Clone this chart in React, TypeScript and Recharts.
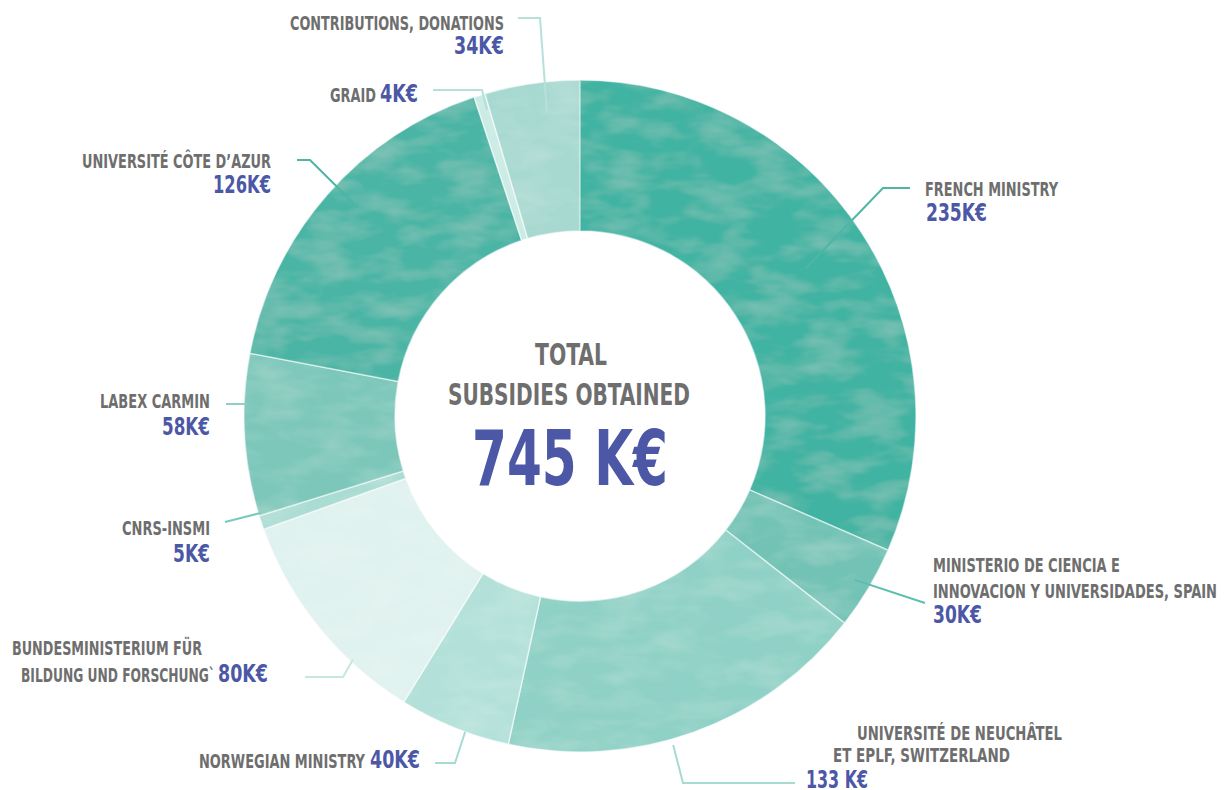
import { PieChart, Pie, Cell } from 'recharts'

// subsidies, clockwise from 12 o'clock
const names = [
  'French Ministry',
  'Ministerio de Ciencia e Innovacion y Universidades, Spain',
  'Université de Neuchâtel et EPLF, Switzerland',
  'Norwegian Ministry',
  'Bundesministerium für Bildung und Forschung',
  'CNRS-INSMI',
  'Labex Carmin',
  'Université Côte d’Azur',
  'GRAID',
  'Contributions, donations',
]
const values = [235, 30, 133, 40, 80, 5, 58, 126, 4, 34]
const colors = [
  '#3fb3a2', '#72c3b5', '#8fd1c6', '#b3e1d9', '#e0f2ef',
  '#a9dcd3', '#7cc7ba', '#4cb5a5', '#cbebe5', '#a7d9d0',
]
const lineColors = [
  '#4db6a7', '#5dbdb0', '#a6dbd2', '#a6dbd2', '#c6e7e1',
  '#7ccabd', '#8fd0c5', '#4db5a5', '#b5e1da', '#b5e1da',
]

const GRAY = '#6e6e6e'
const BLUE = '#4c58a6'
const FONT = "'DejaVu Sans Condensed', 'DejaVu Sans', sans-serif"

const data = names.map((name, i) => ({ name, value: values[i] }))
const total = values.reduce((a, b) => a + b, 0)

// label placement: leader start (angle nudge / radius), bends, then text pieces
// each piece: [left x, baseline y, width, text]  (text null = the value)
type Piece = [number, number, number, string | null]
const labelLayout: { da: number; r: number; path: number[][]; pieces: Piece[]; sp?: boolean }[] = [
  { da: 0, r: 270, path: [[883, 188], [910, 188]], pieces: [
    [925, 196, 133, 'FRENCH MINISTRY'], [926, 221, 61, null]] },
  { da: 0, r: 320, path: [[925, 603]], pieces: [
    [933, 572, 187, 'MINISTERIO DE CIENCIA E'],
    [933, 598, 284, 'INNOVACION Y UNIVERSIDADES, SPAIN'],
    [933, 623, 49, null]] },
  { da: -4, r: 342, path: [[683, 783], [795, 783]], sp: true, pieces: [
    [857, 740, 205, 'UNIVERSITÉ DE NEUCHÂTEL'],
    [833, 762, 177, 'ET EPLF, SWITZERLAND'],
    [806, 788, 62, null]] },
  { da: 2, r: 336, path: [[455, 763], [435, 763]], pieces: [
    [199, 768, 166, 'NORWEGIAN MINISTRY'], [370, 768, 50, null]] },
  { da: 8, r: 333, path: [[343, 677], [305, 677]], pieces: [
    [12, 655, 190, 'BUNDESMINISTERIUM FÜR'],
    [21, 682, 194, 'BILDUNG UND FORSCHUNG`'], [218, 682, 50, null]] },
  { da: -1.6, r: 334, path: [[225, 522]], pieces: [
    [122, 535, 88, 'CNRS-INSMI'], [173, 562, 37, null]] },
  { da: -5.3, r: 334, path: [[226, 404]], pieces: [
    [100, 408, 110, 'LABEX CARMIN'], [162, 435, 48, null]] },
  { da: -2, r: 305, path: [[310, 160], [297, 160]], pieces: [
    [82, 168, 189, 'UNIVERSITÉ CÔTE D’AZUR'], [213, 193, 58, null]] },
  { da: -0.5, r: 320, path: [[482, 90], [433, 90]], pieces: [
    [330, 102, 46, 'GRAID'], [380, 102, 38, null]] },
  { da: -2, r: 305, path: [[540, 18], [518, 18]], pieces: [
    [290, 30, 214, 'CONTRIBUTIONS, DONATIONS'], [454, 54, 50, null]] },
]

const RAD = Math.PI / 180

const renderLabel = (props: any) => {
  const { cx, cy, midAngle, index } = props
  const lay = labelLayout[index]
  const a = (midAngle + lay.da) * RAD
  const sx = cx + lay.r * Math.cos(-a)
  const sy = cy + lay.r * Math.sin(-a)
  const pts = [[sx, sy], ...lay.path].map(p => p.join(',')).join(' ')
  return (
    <g key={`lbl-${index}`}>
      {index === 0 && (
        <defs>
          <filter id="wash" x="0" y="0" width="100%" height="100%">
            <feTurbulence type="fractalNoise" baseFrequency="0.02 0.05" numOctaves={3} seed={4} result="noise" />
            <feColorMatrix in="noise" type="matrix"
              values="0 0 0 0 1  0 0 0 0 1  0 0 0 0 1  0 0 0 0.3 -0.12" result="spots" />
            <feComposite in="spots" in2="SourceGraphic" operator="in" result="spotsIn" />
            <feMerge>
              <feMergeNode in="SourceGraphic" />
              <feMergeNode in="spotsIn" />
            </feMerge>
          </filter>
        </defs>
      )}
      <polyline points={pts} fill="none" stroke={lineColors[index]} strokeWidth={2} />
      {lay.pieces.map(([x, y, w, t], j) => (
        <text key={j} x={x} y={y} textLength={w} lengthAdjust="spacingAndGlyphs"
          fontFamily={FONT} fontWeight={700}
          fill={t === null ? BLUE : GRAY} fontSize={t === null ? 25 : 20}>
          {t === null ? `${values[index]}${lay.sp ? ' ' : ''}K€` : t}
        </text>
      ))}
    </g>
  )
}

export default function App() {
  return (
    <div style={{ position: 'absolute', left: 0, top: 0, width: 1228, height: 790, background: '#fff' }}>
      <PieChart width={1228} height={790} margin={{ top: 0, right: 0, bottom: 0, left: 0 }}>
        <Pie
          data={data}
          dataKey="value"
          nameKey="name"
          cx={580}
          cy={416}
          innerRadius={185}
          outerRadius={336}
          startAngle={90}
          endAngle={-270}
          stroke="rgba(255,255,255,0.55)"
          strokeWidth={1.5}
          label={renderLabel}
          labelLine={false}
          isAnimationActive={false}
        >
          {data.map((d, i) => (
            <Cell key={d.name} fill={colors[i]} filter="url(#wash)" />
          ))}
        </Pie>
      </PieChart>
      <svg width={1228} height={790} style={{ position: 'absolute', left: 0, top: 0, pointerEvents: 'none' }}>
        <g fontFamily={FONT} fontWeight={700}>
          <text x={535} y={365} textLength={72} lengthAdjust="spacingAndGlyphs" fill={GRAY} fontSize={31}>TOTAL</text>
          <text x={448} y={405} textLength={242} lengthAdjust="spacingAndGlyphs" fill={GRAY} fontSize={31}>SUBSIDIES OBTAINED</text>
          <text x={472} y={485} textLength={196} lengthAdjust="spacingAndGlyphs" fill={BLUE} fontSize={76}>{total} K€</text>
        </g>
      </svg>
    </div>
  )
}
